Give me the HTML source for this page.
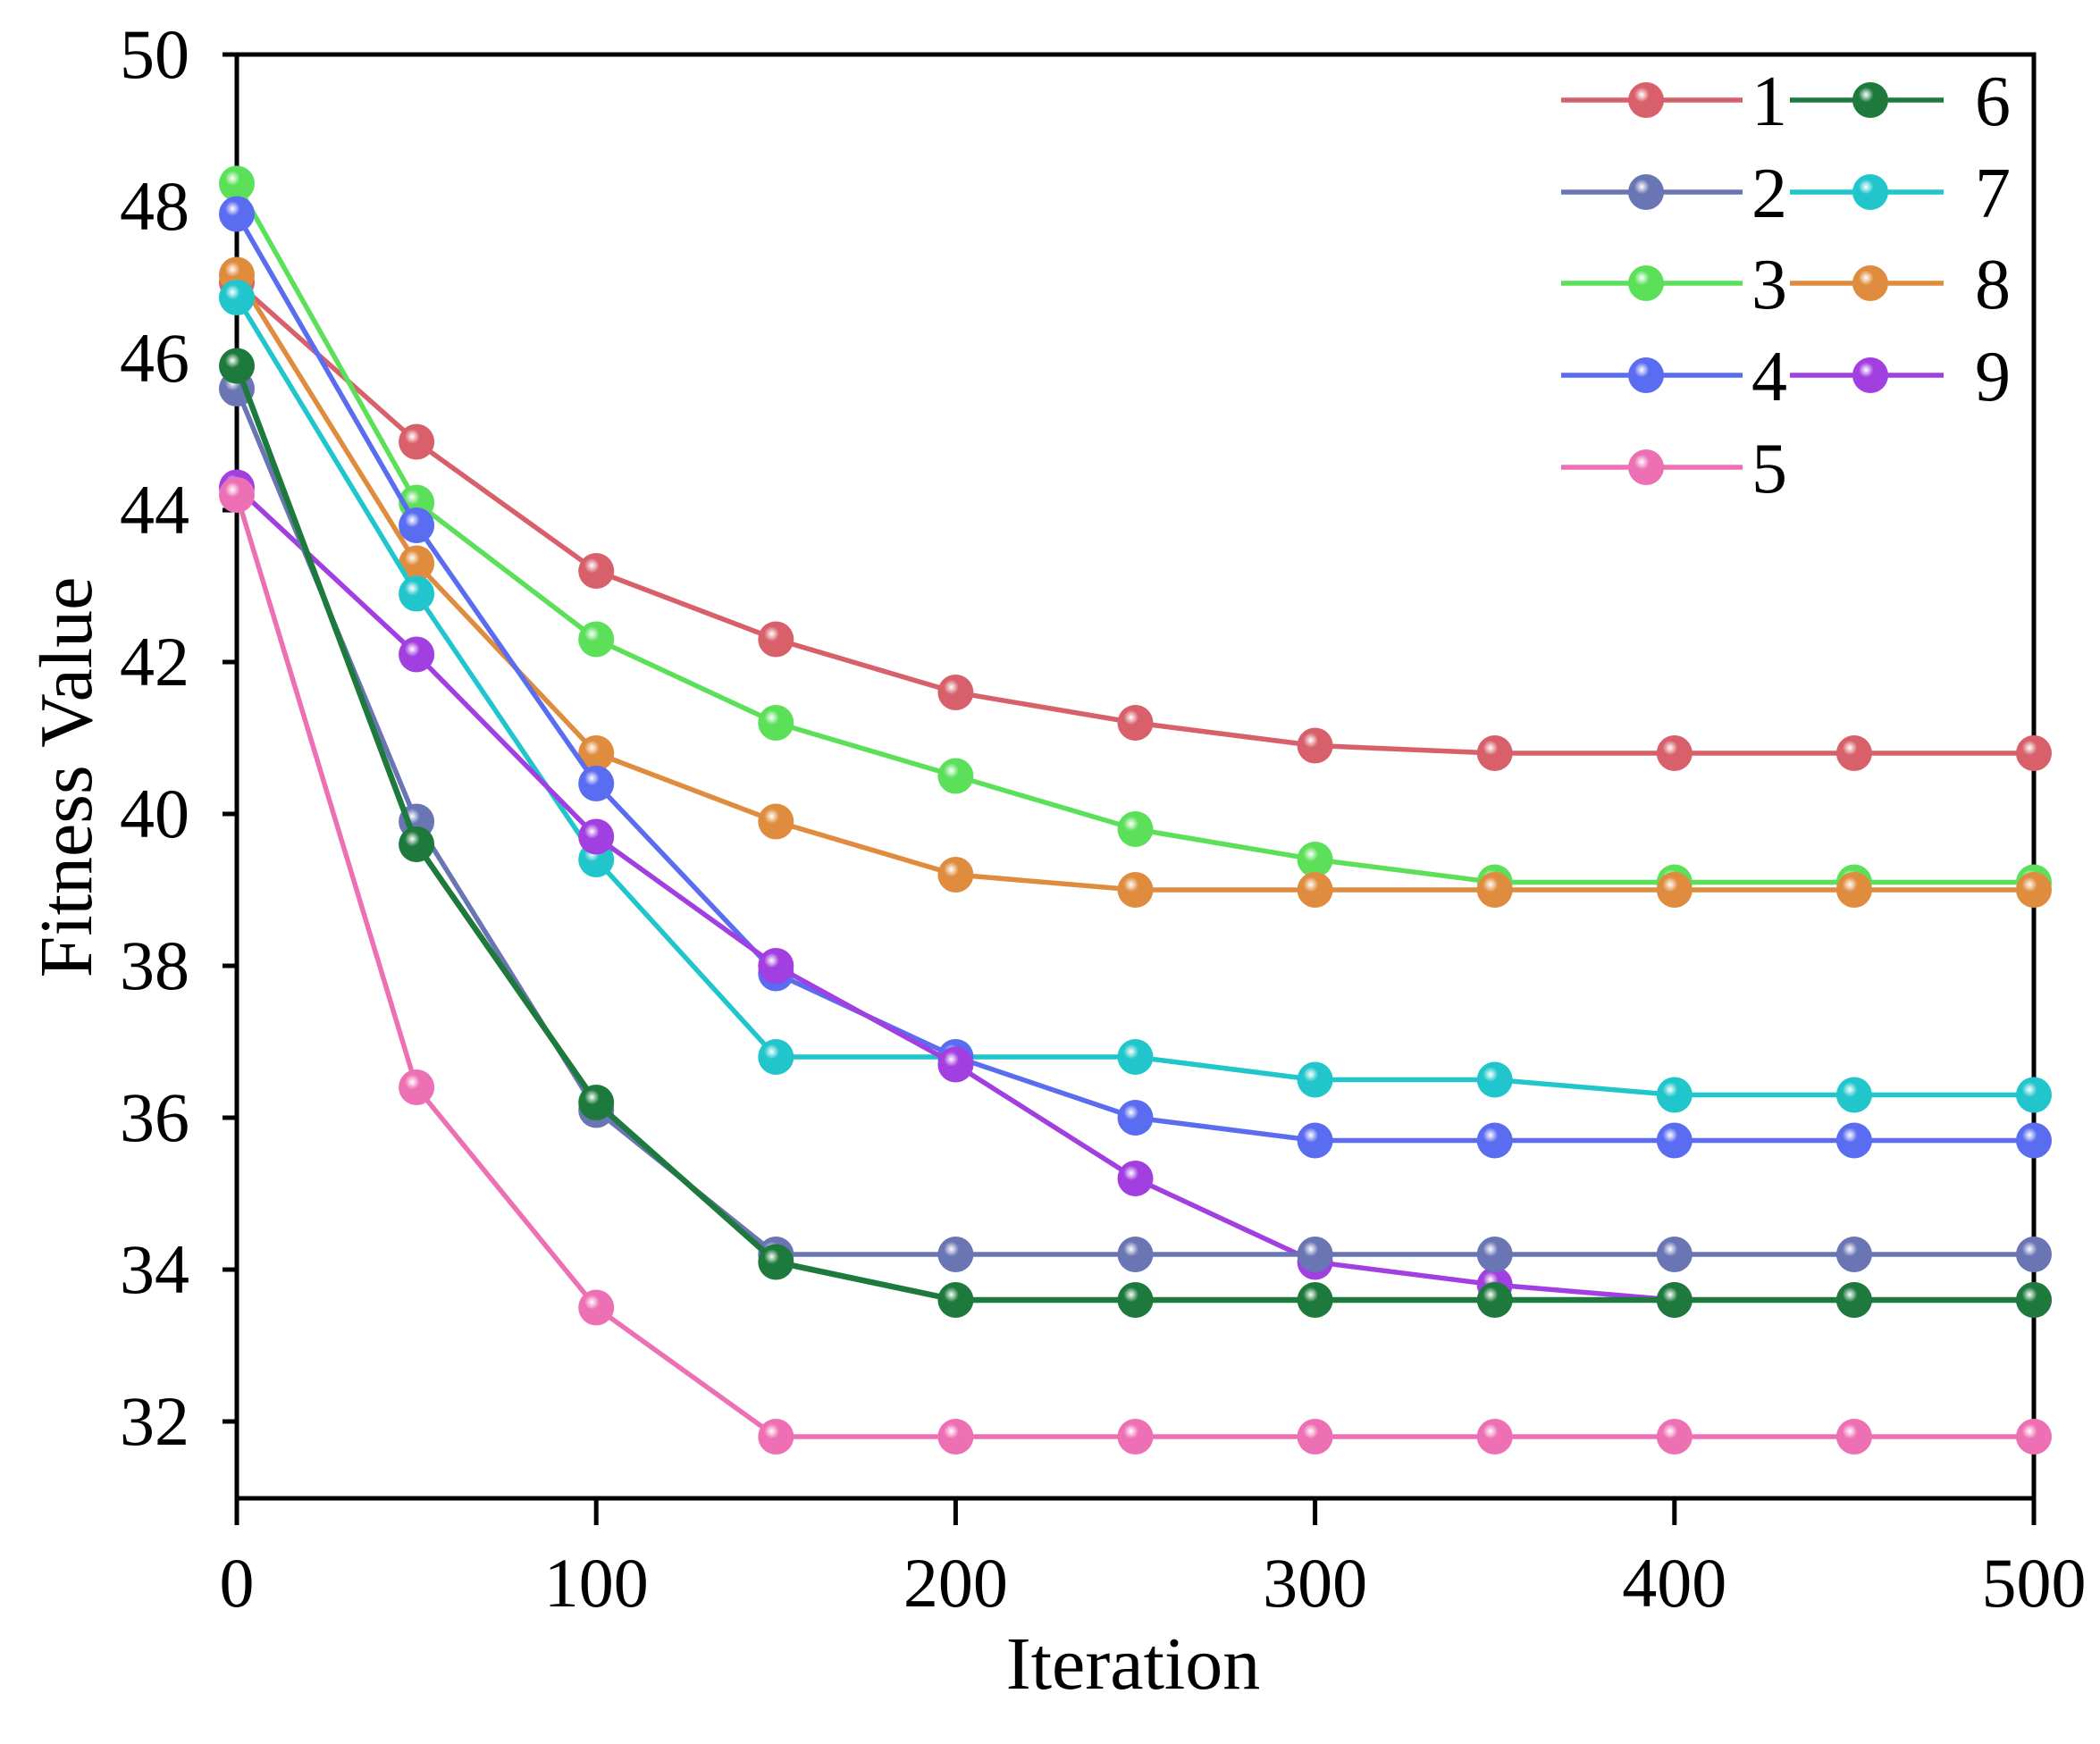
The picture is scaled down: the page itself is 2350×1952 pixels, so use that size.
<!DOCTYPE html>
<html><head><meta charset="utf-8"><style>
html,body{margin:0;padding:0;background:#fff;}
svg{display:block;}
text{font-family:"Liberation Serif",serif;fill:#000;}
</style></head><body>
<svg id="s" width="2350" height="1952" viewBox="0 0 2350 1952" xmlns="http://www.w3.org/2000/svg">
<defs id="d"></defs>
<g id="g"></g>
</svg>
<script>
const NS="http://www.w3.org/2000/svg";
const s=document.getElementById('g'),defs=document.getElementById('d');
function el(t,a,p){const e=document.createElementNS(NS,t);for(const k in a)e.setAttribute(k,a[k]);(p||s).appendChild(e);return e;}
const L=265,R=2276,T=61,B=1677;
const X=t=>L+t/500*(R-L), Y=v=>T+(50-v)*85;
el('rect',{x:L,y:T,width:R-L,height:B-T,fill:'none',stroke:'#000','stroke-width':5});
for(let v=32;v<=50;v+=2){el('line',{x1:L-16,x2:L,y1:Y(v),y2:Y(v),stroke:'#000','stroke-width':5});
 const t=el('text',{x:212,y:Y(v)+26,'font-size':78,'text-anchor':'end'});t.textContent=v;}
for(let v=0;v<=500;v+=100){el('line',{x1:X(v),x2:X(v),y1:B,y2:B+30,stroke:'#000','stroke-width':5});
 const t=el('text',{x:X(v),y:1798,'font-size':78,'text-anchor':'middle'});t.textContent=v;}
let t=el('text',{x:1268,y:1890,'font-size':84,'text-anchor':'middle'});t.textContent='Iteration';
t=el('text',{x:0,y:0,'font-size':84,'text-anchor':'middle',transform:'translate(102,870) rotate(-90)'});t.textContent='Fitness Value';
const S=[
['1','#d8606a',[47.0,44.9,43.2,42.3,41.6,41.2,40.9,40.8,40.8,40.8,40.8]],
['2','#6a76b4',[45.6,39.9,36.1,34.2,34.2,34.2,34.2,34.2,34.2,34.2,34.2]],
['3','#5ce05a',[48.3,44.1,42.3,41.2,40.5,39.8,39.4,39.1,39.1,39.1,39.1]],
['4','#5a6cf0',[47.9,43.8,40.4,37.9,36.8,36.0,35.7,35.7,35.7,35.7,35.7]],
['5','#ee70b4',[44.2,36.4,33.5,31.8,31.8,31.8,31.8,31.8,31.8,31.8,31.8]],
['6','#1d7a3c',[45.9,39.6,36.2,34.1,33.6,33.6,33.6,33.6,33.6,33.6,33.6]],
['7','#20c6cc',[46.8,42.9,39.4,36.8,36.8,36.8,36.5,36.5,36.3,36.3,36.3]],
['8','#e08c3e',[47.1,43.3,40.8,39.9,39.2,39.0,39.0,39.0,39.0,39.0,39.0]],
['9','#a23fe0',[44.3,42.1,39.7,38.0,36.7,35.2,34.1,33.8,33.6,33.6,33.6]]];
S.forEach((sr,i)=>{const g=el('radialGradient',{id:'g'+i,cx:'0.38',cy:'0.35',r:'0.7'},defs);
 el('stop',{offset:'0',"stop-color":'#fff'},g);el('stop',{offset:'0.3',"stop-color":sr[1]},g);el('stop',{offset:'1',"stop-color":sr[1]},g);});
function mk(x,y,i){el('circle',{cx:x,cy:y,r:20,fill:'url(#g'+i+')'});}
[0,2,7,6,3,8,1,5,4].forEach(i=>{const sr=S[i];
 el('polyline',{points:sr[2].map((v,k)=>X(k*50)+','+Y(v)).join(' '),fill:'none',stroke:sr[1],'stroke-width':i==5?6.5:5.5});
 sr[2].forEach((v,k)=>mk(X(k*50),Y(v),i));});
const rows=[112,215,317,420,523];
S.forEach((sr,i)=>{const c=i<5?0:1,r=i<5?i:i-5;const y=rows[r];
 const x1=c?2003:1747,x2=c?2175:1950,mx=c?2093:1842,lx=c?2230:1980;
 el('line',{x1:x1,x2:x2,y1:y,y2:y,stroke:sr[1],'stroke-width':5.5});mk(mx,y,i);
 const t=el('text',{x:lx,y:y+28,'font-size':80,'text-anchor':'middle'});t.textContent=sr[0];});
</script>
</body></html>
